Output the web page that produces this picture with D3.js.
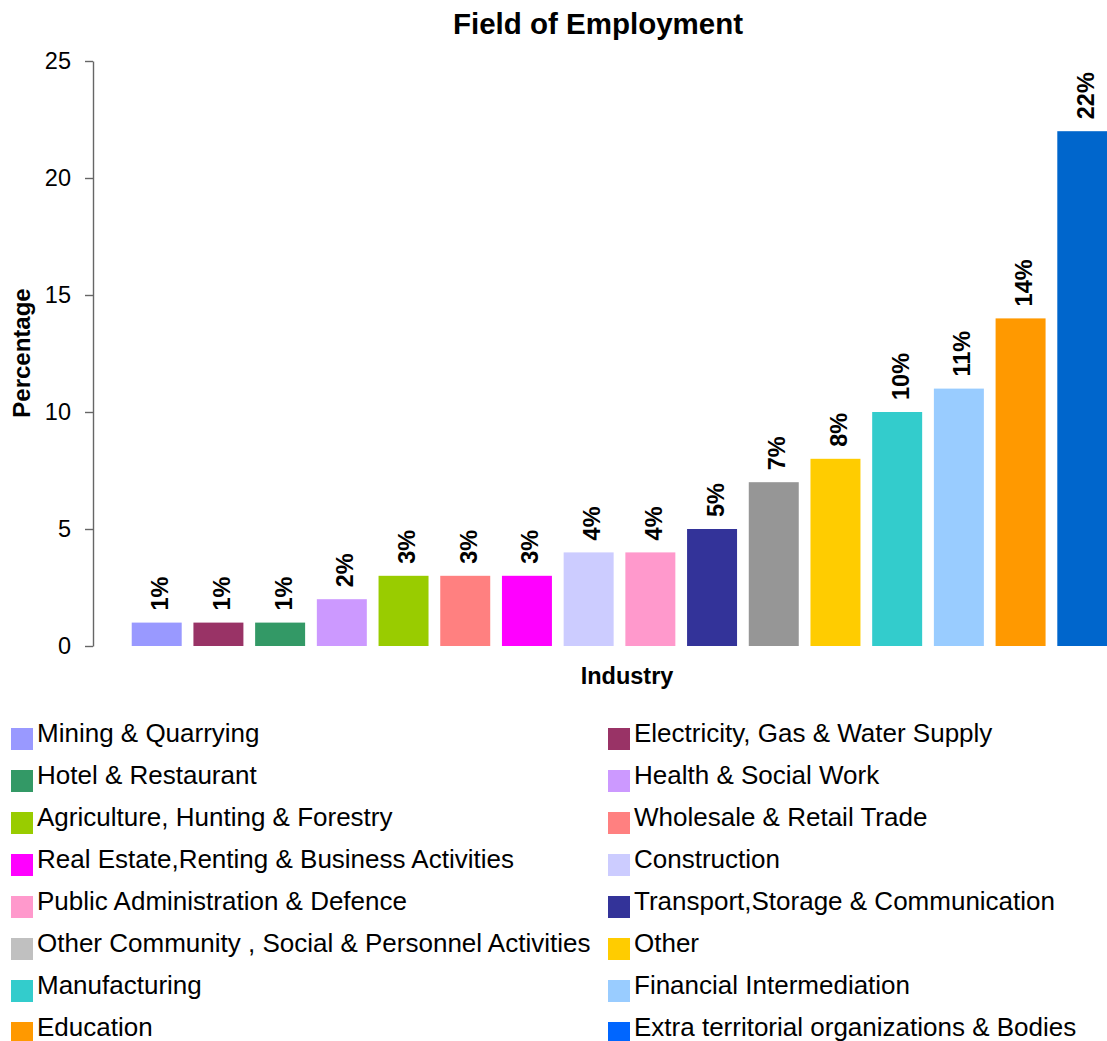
<!DOCTYPE html>
<html>
<head>
<meta charset="utf-8">
<script src="https://cdn.jsdelivr.net/npm/d3@7"></script>
<style>
  html, body { margin: 0; padding: 0; background: #fff; }
  svg { display: block; font-family: "Liberation Sans", Arial, sans-serif; }
</style>
</head>
<body>
<svg id="chart" width="1107" height="1041"></svg>
<script>
// Share of respondents by field of employment (percent)
const industries = [
  "Mining & Quarrying",
  "Electricity, Gas & Water Supply",
  "Hotel & Restaurant",
  "Health & Social Work",
  "Agriculture, Hunting & Forestry",
  "Wholesale & Retail Trade",
  "Real Estate,Renting & Business Activities",
  "Construction",
  "Public Administration & Defence",
  "Transport,Storage & Communication",
  "Other Community , Social & Personnel Activities",
  "Other",
  "Manufacturing",
  "Financial Intermediation",
  "Education",
  "Extra territorial organizations & Bodies"
];
const percentages = [1, 1, 1, 2, 3, 3, 3, 4, 4, 5, 7, 8, 10, 11, 14, 22];
const barColors = [
  "#9999FF", "#993366", "#339966", "#CC99FF", "#99CC00", "#FF8080",
  "#FF00FF", "#CCCCFF", "#FF99CC", "#333399", "#969696", "#FFCC00",
  "#33CCCC", "#99CCFF", "#FF9900", "#0066CC"
];
const legendColors = [
  "#9999FF", "#993366", "#339966", "#CC99FF", "#99CC00", "#FF8080",
  "#FF00FF", "#CCCCFF", "#FF99CC", "#333399", "#C0C0C0", "#FFCC00",
  "#33CCCC", "#99CCFF", "#FF9900", "#0066FF"
];
const yTicks = [0, 5, 10, 15, 20, 25];

const svg = d3.select("#chart");

const x = d3.scaleBand()
  .domain(industries)
  .range([120, 1119])
  .padding(0.19);

const y = d3.scaleLinear()
  .domain([0, 25])
  .range([646, 61]);

// Title
svg.append("text")
  .attr("x", 598).attr("y", 34)
  .attr("text-anchor", "middle")
  .attr("font-size", 29.5).attr("font-weight", "bold")
  .text("Field of Employment");

// Y axis
const yAxis = svg.append("g")
  .attr("transform", "translate(93,0)")
  .call(d3.axisLeft(y).tickValues(yTicks).tickSize(8).tickSizeOuter(0).tickPadding(14));
yAxis.select(".domain").attr("stroke", "#666").attr("stroke-width", 1.4);
yAxis.selectAll(".tick line").attr("stroke", "#666").attr("stroke-width", 1.4);
yAxis.selectAll(".tick text")
  .attr("font-size", 23.5).attr("fill", "#000")
  .attr("font-family", "Liberation Sans, Arial, sans-serif");

// Axis titles
svg.append("text")
  .attr("transform", "translate(30,353) rotate(-90)")
  .attr("text-anchor", "middle")
  .attr("font-size", 24).attr("font-weight", "bold")
  .text("Percentage");

svg.append("text")
  .attr("x", 627).attr("y", 684)
  .attr("text-anchor", "middle")
  .attr("font-size", 23.5).attr("font-weight", "bold")
  .text("Industry");

// Bars
svg.append("g").selectAll("rect")
  .data(industries)
  .join("rect")
  .attr("x", d => x(d))
  .attr("y", (d, i) => y(percentages[i]))
  .attr("width", x.bandwidth())
  .attr("height", (d, i) => y(0) - y(percentages[i]))
  .attr("fill", (d, i) => barColors[i]);

// Value labels above bars
svg.append("g").selectAll("text")
  .data(industries)
  .join("text")
  .attr("transform", (d, i) =>
    `translate(${x(d) + x.bandwidth() / 2 + 3},${y(percentages[i]) - 12}) rotate(-90)`)
  .attr("dy", "0.36em")
  .attr("font-size", 23.5).attr("font-weight", "bold")
  .text((d, i) => percentages[i] + "%");

// Legend: two columns, filled row by row
const legend = svg.append("g").selectAll("g")
  .data(industries)
  .join("g")
  .attr("transform", (d, i) =>
    `translate(${i % 2 === 0 ? 11 : 608},${728 + Math.floor(i / 2) * 42})`);

legend.append("rect")
  .attr("width", 22).attr("height", 22)
  .attr("fill", (d, i) => legendColors[i]);

legend.append("text")
  .attr("x", 26).attr("y", 14)
  .attr("font-size", 26)
  .text(d => d);
</script>
</body>
</html>
